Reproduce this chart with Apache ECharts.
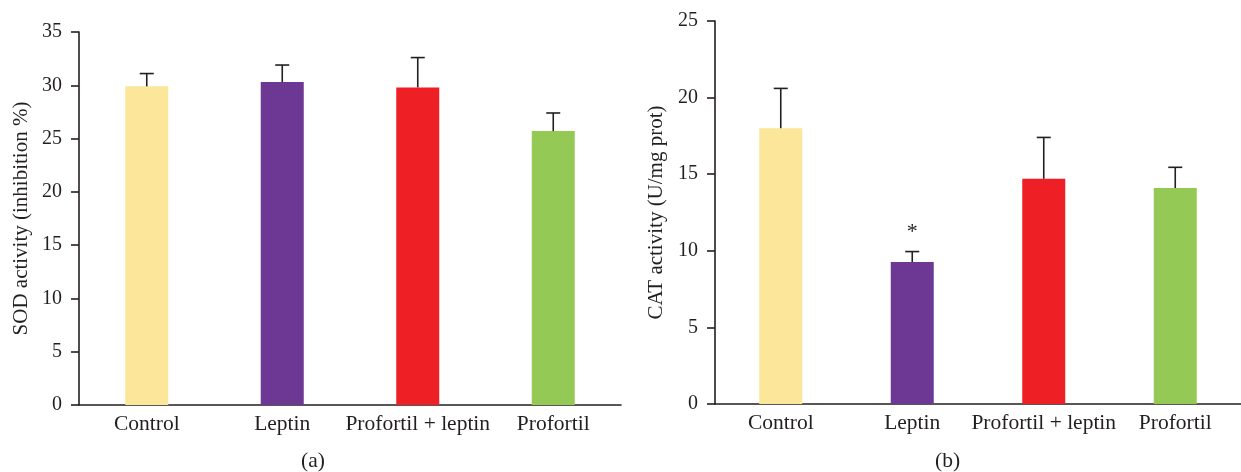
<!DOCTYPE html>
<html>
<head>
<meta charset="utf-8">
<script src="https://cdn.jsdelivr.net/npm/echarts@6/dist/echarts.min.js"></script>
<style>
html,body{margin:0;padding:0;background:#fff;}
#chart{width:1241px;height:472px;}
</style>
</head>
<body>
<div id="chart"></div>
<script>
var categories = ['Control', 'Leptin', 'Profortil + leptin', 'Profortil'];
var sodMean = [29.9, 30.3, 29.8, 25.7];
var sodErr = [1.2, 1.6, 2.8, 1.7];
var catMean = [18.0, 9.27, 14.7, 14.1];
var catErr = [2.6, 0.68, 2.7, 1.35];
var sodTicks = { min: 0, max: 35, interval: 5 };
var catTicks = { min: 0, max: 25, interval: 5 };
var barColors = ['#FCE699', '#6D3794', '#EE1F25', '#93C954'];
var significant = ['', '*', '', ''];

var FONT = 'Liberation Serif';
var TXT = '#231F20';

var chart = echarts.init(document.getElementById('chart'));

function barData(means) {
  return means.map(function (v, i) {
    return { value: v, itemStyle: { color: barColors[i] } };
  });
}
function errData(means, errs) {
  return means.map(function (v, i) { return [i, v, v + errs[i]]; });
}
function errRender(params, api) {
  var x = api.value(0);
  var p0 = api.coord([x, api.value(1)]);
  var p1 = api.coord([x, api.value(2)]);
  var hw = 7;
  var st = { stroke: TXT, lineWidth: 1.6 };
  return {
    type: 'group',
    children: [
      { type: 'line', shape: { x1: p0[0], y1: p0[1], x2: p1[0], y2: p1[1] }, style: st },
      { type: 'line', shape: { x1: p1[0] - hw, y1: p1[1], x2: p1[0] + hw, y2: p1[1] }, style: st }
    ]
  };
}
function xAxis(gi) {
  return {
    type: 'category', gridIndex: gi, data: categories, boundaryGap: true,
    axisLine: { lineStyle: { color: TXT, width: 1.6 } },
    axisTick: { show: false },
    axisLabel: { color: TXT, fontFamily: FONT, fontSize: 21.5, margin: 8, interval: 0 }
  };
}
function yAxis(gi, t, name, gap) {
  return {
    type: 'value', gridIndex: gi, min: t.min, max: t.max, interval: t.interval,
    name: name, nameLocation: 'middle', nameGap: gap, nameRotate: 90,
    nameTextStyle: { color: TXT, fontFamily: FONT, fontSize: 21 },
    axisLine: { show: true, lineStyle: { color: TXT, width: 1.6 } },
    axisTick: { show: true, length: 8, lineStyle: { color: TXT, width: 1.6 } },
    splitLine: { show: false },
    axisLabel: { color: TXT, fontFamily: FONT, fontSize: 20, margin: 17 }
  };
}

var catBars = barData(catMean);
catBars.forEach(function (d, i) {
  if (significant[i]) {
    d.label = { show: true, position: 'top', distance: 19, formatter: significant[i],
      color: TXT, fontFamily: FONT, fontSize: 22 };
  }
});

chart.setOption({
  animation: false,
  backgroundColor: '#fff',
  grid: [
    { left: 79, top: 32, width: 542, bottom: 67 },
    { left: 715, top: 21, width: 538, bottom: 68 }
  ],
  xAxis: [xAxis(0), xAxis(1)],
  yAxis: [
    yAxis(0, sodTicks, 'SOD activity (inhibition %)', 47),
    yAxis(1, catTicks, 'CAT activity (U/mg prot)', 48)
  ],
  series: [
    { type: 'bar', xAxisIndex: 0, yAxisIndex: 0, barWidth: 43, data: barData(sodMean), z: 2 },
    { type: 'custom', xAxisIndex: 0, yAxisIndex: 0, data: errData(sodMean, sodErr), renderItem: errRender, z: 3 },
    { type: 'bar', xAxisIndex: 1, yAxisIndex: 1, barWidth: 43, data: catBars, z: 2 },
    { type: 'custom', xAxisIndex: 1, yAxisIndex: 1, data: errData(catMean, catErr), renderItem: errRender, z: 3 }
  ],
  graphic: [
    { type: 'text', left: 313 - 12, top: 450, style: { text: '(a)', fill: TXT, font: '21.5px "Liberation Serif"' } },
    { type: 'text', left: 947 - 12, top: 450, style: { text: '(b)', fill: TXT, font: '21.5px "Liberation Serif"' } }
  ]
});
</script>
</body>
</html>
